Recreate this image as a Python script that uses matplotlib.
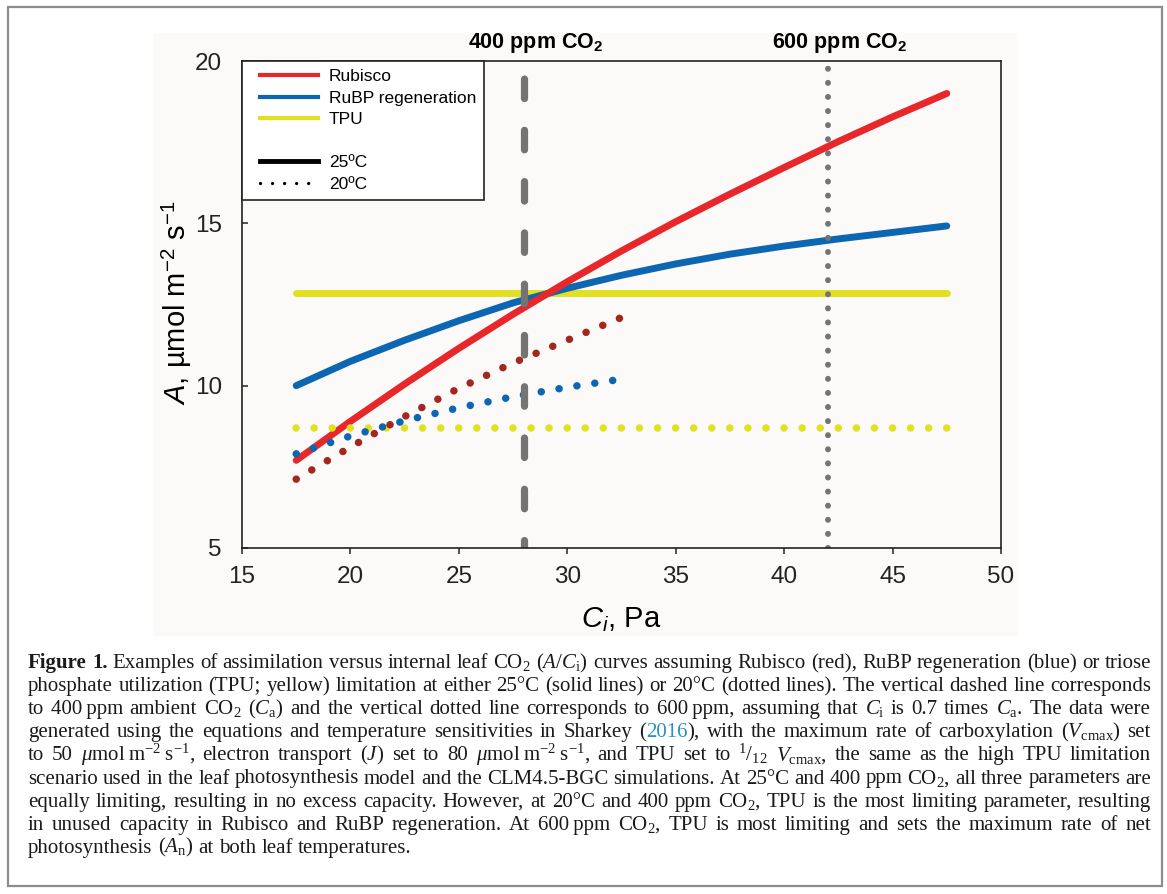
import matplotlib
matplotlib.use('Agg')
import matplotlib.pyplot as plt
from matplotlib.lines import Line2D
from matplotlib.patches import Rectangle
from matplotlib.legend_handler import HandlerLine2D
from matplotlib.transforms import offset_copy

plt.rcParams['font.family'] = ['Liberation Sans', 'DejaVu Sans']
plt.rcParams['mathtext.fontset'] = 'custom'
plt.rcParams['mathtext.rm'] = 'Liberation Serif'
plt.rcParams['mathtext.it'] = 'Liberation Serif:italic'
plt.rcParams['mathtext.bf'] = 'Liberation Serif:bold'
plt.rcParams['mathtext.sf'] = 'Liberation Sans:italic'

# --- data (Ci in Pa, A in umol m-2 s-1) ---
ci_25 = [17.5, 20, 22.5, 25, 27.5, 30, 32.5, 35, 37.5, 40, 42.5, 45, 47.5]
rubisco_25 = [7.70, 8.90, 10.05, 11.15, 12.20, 13.20, 14.15, 15.05, 15.90, 16.72, 17.52, 18.28, 19.00]
rubp_25 = [10.0, 10.75, 11.4, 12.0, 12.55, 13.0, 13.4, 13.75, 14.05, 14.3, 14.52, 14.72, 14.92]
tpu_ci = [17.5, 47.5]
tpu_25 = [12.85, 12.85]

ci_20 = [17.5, 20, 22.5, 25, 27.5, 30, 32.5]
rubisco_20 = [7.12, 8.11, 9.05, 9.92, 10.70, 11.40, 12.10]
rubp_20 = [7.90, 8.45, 8.92, 9.32, 9.66, 9.95, 10.20]
tpu_20 = [8.7, 8.7]

ci_400 = 28   # 400 ppm * 0.7
ci_600 = 42   # 600 ppm * 0.7

red = '#e8272b'
blue = '#0d66b2'
yellow = '#e1e122'
darkred = '#a3271f'
gray = '#747474'

W, H = 1167, 894
fig = plt.figure(figsize=(W / 100, H / 100), dpi=100)

# faint background of the chart image and outer frame
fig.patches.append(Rectangle((153 / W, 1 - 635 / H), (1017 - 153) / W, (635 - 33) / H,
                             transform=fig.transFigure, color='#fbfaf8', zorder=-2))
fig.patches.append(Rectangle((8 / W, 1 - 886 / H), (1162 - 8) / W, (886 - 7) / H,
                             transform=fig.transFigure, fill=False, edgecolor='#8c8c8c',
                             lw=1.6, zorder=-1))

ax = fig.add_axes([242 / W, 1 - 548 / H, (1001 - 242) / W, (548 - 61) / H])
ax.set_facecolor('none')

lw = 5.0
ax.plot(tpu_ci, tpu_25, color=yellow, lw=lw, solid_capstyle='round')
ax.plot(ci_25, rubp_25, color=blue, lw=lw, solid_capstyle='round')
ax.plot(ci_25, rubisco_25, color=red, lw=lw, solid_capstyle='round')

dot = dict(lw=5.4, dashes=(0.01, 2.4), dash_capstyle='round')
ax.plot(tpu_ci, tpu_20, color=yellow, **dot)
ax.plot(ci_20, rubp_20, color=blue, **dot)
ax.plot(ci_20, rubisco_20, color=darkred, **dot)

ax.axvline(ci_400, color=gray, lw=5.2, linestyle=(1.6, (2.7, 4.4)), dash_capstyle='round')
ax.axvline(ci_600, color=gray, lw=4.3, linestyle=(0, (0.01, 2.35)), dash_capstyle='round')

top = offset_copy(ax.get_xaxis_transform(), fig=fig, x=12, y=0, units='dots')
ax.text(ci_400, 1.012, '400 ppm CO$\\mathregular{_2}$', transform=top, ha='center',
        va='bottom', fontsize=15.5, fontweight='bold')
ax.text(ci_600, 1.012, '600 ppm CO$\\mathregular{_2}$', transform=top, ha='center',
        va='bottom', fontsize=15.5, fontweight='bold')

ax.set_xlim(15, 50)
ax.set_ylim(5, 20)
ax.set_xticks([15, 20, 25, 30, 35, 40, 45, 50])
ax.set_yticks([5, 10, 15, 20])
ax.tick_params(axis='x', direction='out', length=4.3, width=1.1, pad=9, labelsize=17.5, colors='#222222')
ax.tick_params(axis='y', direction='in', length=4.3, width=1.1, pad=14.5, labelsize=17.5, colors='#222222')
for s in ax.spines.values():
    s.set_linewidth(1.2)
    s.set_color('#222222')

ax.text(0.5, -0.147, '$\\mathsf{C_i}$, Pa', transform=ax.transAxes, ha='center', va='center', fontsize=21)
ax.text(-0.0856, 0.504, '$\\mathsf{A}$, µmol m$^{\\mathregular{-2}}$ s$^{\\mathregular{-1}}$',
        transform=ax.transAxes, rotation=90, ha='center', va='center', fontsize=21)

handles = [
    Line2D([], [], color=red, lw=3),
    Line2D([], [], color=blue, lw=3),
    Line2D([], [], color=yellow, lw=3),
    Line2D([], [], color='none', lw=0),
    Line2D([], [], color='black', lw=3.5),
    Line2D([], [], color='black', lw=2.4, dashes=(0.01, 3.6), dash_capstyle='round'),
]
labels = ['Rubisco', 'RuBP regeneration', 'TPU', ' ', '25ºC', '20ºC']
leg = ax.legend(handles, labels, loc='upper left', bbox_to_anchor=(0, 1), borderaxespad=0,
                fontsize=12.5, handlelength=3.9, handletextpad=0.65, labelspacing=0.38,
                borderpad=0.45, fancybox=False, framealpha=1, facecolor='white',
                handler_map={Line2D: HandlerLine2D(xpad=0.6)})
leg.get_texts()[3].set_fontsize(7)
leg.get_frame().set_edgecolor('#222222')
leg.get_frame().set_linewidth(1.2)

# --- caption, justified line by line ---
cap_lines = [
    '**Figure** **1.** Examples of assimilation versus internal leaf CO$_2$ ($A$/$C_\\mathrm{i}$) curves assuming Rubisco (red), RuBP regeneration (blue) or triose',
    'phosphate utilization (TPU; yellow) limitation at either 25°C (solid lines) or 20°C (dotted lines). The vertical dashed line corresponds',
    'to 400\u2009ppm ambient CO$_2$ ($C_\\mathrm{a}$) and the vertical dotted line corresponds to 600\u2009ppm, assuming that $C_\\mathrm{i}$ is 0.7 times $C_\\mathrm{a}$. The data were',
    'generated using the equations and temperature sensitivities in Sharkey ([2016]), with the maximum rate of carboxylation ($V_\\mathrm{cmax}$) set',
    'to 50 $\\mu$mol\u2009m$^{-2}$\u2009s$^{-1}$, electron transport ($J$) set to 80 $\\mu$mol\u2009m$^{-2}$\u2009s$^{-1}$, and TPU set to $^{1}/_{12}$ $V_\\mathrm{cmax}$, the same as the high TPU limitation',
    'scenario used in the leaf photosynthesis model and the CLM4.5-BGC simulations. At 25°C and 400 ppm CO$_2$, all three parameters are',
    'equally limiting, resulting in no excess capacity. However, at 20°C and 400 ppm CO$_2$, TPU is the most limiting parameter, resulting',
    'in unused capacity in Rubisco and RuBP regeneration. At 600\u2009ppm CO$_2$, TPU is most limiting and sets the maximum rate of net',
    'photosynthesis ($A_\\mathrm{n}$) at both leaf temperatures.',
]
cap_x0, cap_x1 = 28, 1151
cap_y0, cap_dy = 668, 23.1
cap_font = dict(fontsize=15, family=['Liberation Serif', 'DejaVu Serif'], color='#1a1a1a')
renderer = fig.canvas.get_renderer()


def segments(word):
    if word.startswith('**'):
        return [(word.strip('*'), {'fontweight': 'bold'})]
    if '[' in word:
        a, rest = word.split('[')
        b, c = rest.split(']')
        return [(a, {}), (b, {'color': '#2b8fc0'}), (c, {})]
    return [(word, {})]


def width(t):
    return t.get_window_extent(renderer).width


probe1 = fig.text(0, 0, 'a a', **cap_font)
probe2 = fig.text(0, 0, 'aa', **cap_font)
space_w = width(probe1) - width(probe2)
probe1.remove()
probe2.remove()

for i, line in enumerate(cap_lines):
    words = []
    for w in line.split(' '):
        parts = []
        for s, kw in segments(w):
            if s:
                t = fig.text(0, 0, s, ha='left', va='baseline', **{**cap_font, **kw})
                parts.append((t, width(t)))
        words.append(parts)
    total = sum(pw for parts in words for _, pw in parts)
    if i < len(cap_lines) - 1:
        gap = max((cap_x1 - cap_x0 - total) / (len(words) - 1), 0.5 * space_w)
    else:
        gap = space_w
    x = cap_x0
    y = 1 - (cap_y0 + i * cap_dy) / H
    for parts in words:
        for t, pw in parts:
            t.set_position((x / W, y))
            x += pw
        x += gap

fig.savefig('out.png', dpi=100)
